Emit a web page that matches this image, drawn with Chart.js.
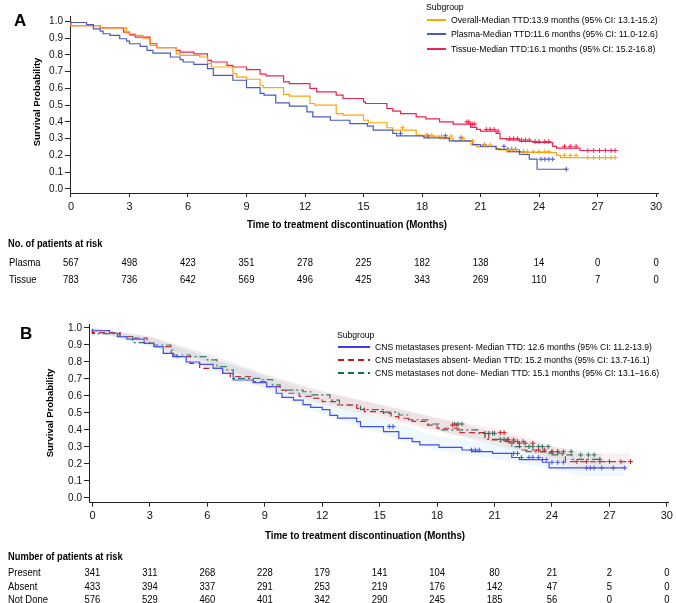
<!DOCTYPE html>
<html><head><meta charset="utf-8">
<script src="https://cdn.jsdelivr.net/npm/chart.js@4"></script>
<style>
html,body{margin:0;padding:0;background:#fff;}
#wrap{position:relative;width:676px;height:603px;overflow:hidden;}
canvas{position:absolute;left:0;}
</style></head><body>
<div id="wrap">
<canvas id="cA" width="676" height="300" style="top:0"></canvas>
<canvas id="cB" width="676" height="303" style="top:300px"></canvas>
</div>
<script>
// ---------- shared ----------
const xTicks = [0,3,6,9,12,15,18,21,24,27,30];
const yTicks = [0,0.1,0.2,0.3,0.4,0.5,0.6,0.7,0.8,0.9,1.0];
const riskTimes = [0,3,6,9,12,15,18,21,24,27,30];

// ---------- Panel A ----------
const overallT = [0,1.5,2.85,3.0,3.7,4.05,4.4,5.4,5.6,6.6,7.0,7.2,8.3,8.5,9.0,9.7,9.85,10.9,11.2,12.25,12.5,13.6,13.95,15.0,15.25,16.2,16.5,17.7,18.0,18.9,19.6,20.5,20.8,21.8,22.0,22.35,23.0,24.9,25.1,26.2,27.9];
const overallS = [1.0,0.976,0.962,0.931,0.917,0.897,0.857,0.844,0.807,0.798,0.788,0.748,0.728,0.688,0.668,0.655,0.619,0.605,0.565,0.554,0.51,0.50,0.45,0.44,0.41,0.395,0.365,0.351,0.321,0.315,0.30,0.285,0.262,0.252,0.242,0.232,0.222,0.217,0.200,0.187,0.187];
const plasmaT = [0,0.8,1.15,1.5,1.65,2.0,2.5,2.85,3.0,3.55,3.9,4.2,5.1,5.6,5.75,6.3,7.0,7.3,8.3,9.0,9.7,9.9,10.5,11.2,12.1,12.4,13.3,14.3,15.2,15.5,16.5,16.7,18.1,19.4,20.6,21.0,21.8,22.4,23.0,23.5,23.9,25.0,25.4];
const plasmaS = [1.0,0.994,0.982,0.956,0.942,0.927,0.917,0.897,0.883,0.867,0.851,0.827,0.811,0.788,0.772,0.758,0.744,0.718,0.678,0.649,0.605,0.57,0.56,0.514,0.494,0.46,0.43,0.41,0.39,0.375,0.351,0.331,0.317,0.305,0.286,0.264,0.254,0.236,0.222,0.205,0.177,0.117,0.117];
const tissueT = [0,1.5,2.7,3.0,3.3,4.05,4.4,5.4,5.6,6.3,7.0,7.2,8.0,8.3,9.0,9.7,10.0,10.9,11.2,12.25,12.6,13.6,13.95,15.0,15.1,16.2,16.5,16.9,17.7,18.2,18.9,19.6,20.5,20.8,21.0,21.8,22.0,22.35,23.0,23.7,24.7,24.9,26.1,26.3,28.0];
const tissueS = [1.0,0.976,0.962,0.937,0.923,0.907,0.867,0.844,0.827,0.817,0.807,0.768,0.758,0.738,0.728,0.712,0.685,0.675,0.639,0.629,0.60,0.579,0.56,0.54,0.52,0.51,0.48,0.464,0.45,0.43,0.418,0.40,0.387,0.367,0.355,0.345,0.331,0.300,0.292,0.283,0.277,0.254,0.243,0.229,0.229];
const overallCens = [17.0,18.2,18.5,19.0,19.5,20.1,20.6,21.2,21.5,22.4,22.6,22.8,23.2,23.4,23.7,24.0,24.3,24.5,25.3,25.6,25.9,26.5,26.8,27.1,27.4,27.7,27.9];
const plasmaCens = [16.9,18.3,19.2,20.0,21.2,22.2,22.4,22.6,22.8,23.0,23.2,24.1,24.3,24.5,24.7,25.4];
const tissueCens = [20.3,20.4,20.5,20.6,20.7,21.3,21.5,21.7,21.9,22.5,22.7,22.9,23.1,23.3,23.5,23.8,24.0,24.3,24.5,25.3,25.6,25.9,26.5,26.8,27.1,27.4,27.7,27.9];
const legendA = ["Overall-Median TTD:13.9 months (95% CI: 13.1-15.2)","Plasma-Median TTD:11.6 months (95% CI: 11.0-12.6)","Tissue-Median TTD:16.1 months (95% CI: 15.2-16.8)"];
const riskLabelsA = ["Plasma","Tissue"];
const riskPlasma = [567,498,423,351,278,225,182,138,14,0,0];
const riskTissue = [783,736,642,569,496,425,343,269,110,7,0];

// ---------- Panel B ----------
const presentT = [0,0.9,1.3,1.8,2.7,3.2,3.7,4.2,4.9,5.6,6.3,6.8,7.35,8.4,9.1,9.6,9.9,10.5,11.0,11.4,12.0,12.4,12.8,13.8,14.0,15.2,16.0,16.7,17.1,18.1,19.3,19.8,20.9,21.9,22.3,23.5,23.85,25.2,27.8];
const presentS = [0.993,0.984,0.969,0.949,0.934,0.91,0.89,0.851,0.831,0.80,0.786,0.763,0.733,0.694,0.678,0.655,0.616,0.592,0.576,0.549,0.533,0.52,0.486,0.47,0.449,0.42,0.39,0.351,0.331,0.312,0.298,0.282,0.272,0.262,0.238,0.226,0.21,0.177,0.177];
const absentT = [0,1.45,2.1,2.85,3.2,4.1,4.4,5.1,5.6,6.8,7.2,8.4,9.1,9.8,10.1,10.8,11.5,12.0,12.8,13.8,14.2,15.2,15.6,16.0,16.7,17.5,18.0,19.2,20.7,21.6,22.3,23.2,23.9,24.7,25.0,28.1];
const absentS = [0.993,0.973,0.949,0.94,0.91,0.89,0.851,0.831,0.792,0.763,0.733,0.714,0.684,0.655,0.635,0.616,0.598,0.586,0.567,0.547,0.527,0.508,0.498,0.478,0.469,0.45,0.429,0.41,0.384,0.341,0.322,0.282,0.272,0.263,0.214,0.214];
const notDoneT = [0,1.4,2.1,3.2,4.1,4.2,5.1,6.0,6.5,7.0,7.35,8.75,9.4,9.8,11.0,11.4,12.4,12.9,14.0,15.2,16.0,16.5,17.5,18.1,20.2,20.5,21.25,21.9,22.65,23.85,25.05,26.3,26.6];
const notDoneS = [0.995,0.967,0.95,0.914,0.90,0.87,0.841,0.831,0.812,0.773,0.753,0.704,0.696,0.665,0.635,0.625,0.606,0.576,0.547,0.52,0.505,0.488,0.46,0.435,0.40,0.38,0.345,0.331,0.302,0.272,0.253,0.227,0.227];
const presentCens = [15.5,15.7,19.8,20.0,20.2,22.0,22.2,22.4,22.8,23.0,23.3,23.5,23.7,24.0,24.3,24.6,25.8,26.0,26.2,26.6,27.2,27.8];
const absentCens = [18.8,19.0,21.3,21.5,21.7,22.0,22.3,22.6,23.0,23.3,23.6,24.0,24.3,25.3,25.8,26.5,27.0,27.6,28.1];
const notDoneCens = [18.9,19.1,19.3,20.5,20.7,20.9,21.0,21.3,21.5,21.7,22.0,22.2,22.5,22.8,23.0,23.3,23.5,23.8,24.0,24.3,24.6,25.0,25.5,25.9,26.2,26.5];
const presentBandT = [0,3,6,9,12,15,18,21,24,25.5,27.8];
const presentUpper = [1.0,0.94,0.83,0.72,0.58,0.47,0.36,0.32,0.26,0.22,0.22];
const presentLower = [0.98,0.89,0.76,0.64,0.49,0.38,0.28,0.23,0.17,0.13,0.13];
const absentBandT = [0,3,6,9,12,15,18,21,24,25.5,28.1];
const absentUpper = [1.0,0.95,0.83,0.72,0.62,0.55,0.47,0.41,0.31,0.26,0.26];
const absentLower = [0.98,0.90,0.77,0.65,0.55,0.47,0.39,0.33,0.22,0.17,0.17];
const notDoneBandT = [0,3,6,9,12,15,18,21,24,26.6];
const notDoneUpper = [1.0,0.95,0.85,0.73,0.63,0.55,0.47,0.39,0.30,0.26];
const notDoneLower = [0.98,0.91,0.80,0.67,0.57,0.49,0.40,0.31,0.24,0.19];
const legendB = ["CNS metastases present- Median TTD: 12.6 months (95% CI: 11.2-13.9)","CNS metastases absent- Median TTD: 15.2 months (95% CI: 13.7-16.1)","CNS metastases not done- Median TTD: 15.1 months (95% CI: 13.1\u201316.6)"];
const riskLabelsB = ["Present","Absent","Not Done"];
const riskPresent = [341,311,268,228,179,141,104,80,21,2,0];
const riskAbsent = [433,394,337,291,253,219,176,142,47,5,0];
const riskNotDone = [576,529,460,401,342,290,245,185,56,0,0];

// ---------- helpers ----------
const SANS = "'Liberation Sans', Arial, sans-serif";
const AX = '#222';
const NX = 0.86; // horizontal squeeze to imitate a narrow face
function pts(ts, ss){ return ts.map((t,i)=>({x:t,y:ss[i]})); }
function survAt(ts, ss, t){ let v = ss[0]; for(let i=0;i<ts.length;i++){ if(ts[i]<=t) v=ss[i]; } return v; }
function cens(ts, ss, cs){ return cs.map(t=>({x:t,y:survAt(ts,ss,t)})); }
function nText(c, txt, x, y, align, sx){
  c.save(); c.translate(x, y); c.scale(sx||NX, 1); c.textAlign = align; c.fillText(txt, 0, 0); c.restore();
}
function curve(label, ts, ss, color, dash, w){
  return {label, data:pts(ts,ss), showLine:true, stepped:'after', borderColor:color, borderWidth:w||1.2,
          borderDash:dash||[], pointRadius:0, pointHoverRadius:0, fill:false};
}
function censSet(ts, ss, cs, color){
  return {label:'', data:cens(ts,ss,cs), showLine:false, pointStyle:'cross', pointRadius:2.4,
          borderColor:color, borderWidth:1, backgroundColor:color};
}
function band(ts, up, lo, color){
  return [
    {label:'', data:pts(ts,up), showLine:true, borderWidth:0, pointRadius:0, fill:'+1', backgroundColor:color, borderColor:'rgba(0,0,0,0)'},
    {label:'', data:pts(ts,lo), showLine:true, borderWidth:0, pointRadius:0, fill:false, borderColor:'rgba(0,0,0,0)'}
  ];
}
function scales(xmin, xmax, ymin, ymax, yw, xh){
  return {
    x:{type:'linear', min:xmin, max:xmax,
       afterBuildTicks:s=>{ s.ticks = xTicks.map(v=>({value:v})); },
       afterFit:s=>{ s.height = xh; },
       grid:{display:true, drawOnChartArea:false, drawTicks:true, tickLength:4, color:AX, lineWidth:1},
       border:{display:true, color:AX, width:1},
       ticks:{autoSkip:false, maxRotation:0, padding:3, color:'#111', font:{family:SANS, size:11}}},
    y:{type:'linear', min:ymin, max:ymax,
       afterBuildTicks:s=>{ s.ticks = yTicks.map(v=>({value:v})); },
       afterFit:s=>{ s.width = yw; },
       grid:{display:true, drawOnChartArea:false, drawTicks:true, tickLength:5, color:AX, lineWidth:1},
       border:{display:true, color:AX, width:1},
       ticks:{autoSkip:false, padding:2, color:'#111', font:{family:SANS, size:10}, callback:v=>Number(v).toFixed(1)}}
  };
}

// ---------- Chart A ----------
const colO = '#FFA500', colP = '#4A5AC0', colT = '#F2224E';
const plugA = {id:'decoA', afterDraw(ch){
  const c = ch.ctx, xs = ch.scales.x;
  c.save();
  c.fillStyle = '#000';
  c.font = "bold 17px " + SANS; c.textBaseline='alphabetic'; c.textAlign='left';
  c.fillText('A', 14, 26);
  c.save(); c.translate(37, 102); c.rotate(-Math.PI/2);
  c.font = "bold 9.5px " + SANS; c.textAlign='center'; c.textBaseline='middle';
  c.fillText('Survival Probability', 0, 0); c.restore();
  c.font = "bold 11.3px " + SANS; c.textBaseline='middle';
  nText(c, 'Time to treatment discontinuation (Months)', 347, 225, 'center');
  // legend
  c.font = "8.7px " + SANS; c.textAlign='left'; c.textBaseline='middle';
  c.fillText('Subgroup', 426, 8);
  const cols=[colO,colP,colT], ys=[20,34,49];
  for(let i=0;i<3;i++){
    c.strokeStyle=cols[i]; c.lineWidth=2; c.beginPath(); c.moveTo(427,ys[i]); c.lineTo(446,ys[i]); c.stroke();
    c.fillStyle='#000'; c.fillText(legendA[i], 451, ys[i]+1);
  }
  // risk table
  c.font = "bold 10.8px " + SANS;
  nText(c, 'No. of patients at risk', 8, 244, 'left');
  c.font = "11px " + SANS;
  nText(c, riskLabelsA[0], 9, 263, 'left'); nText(c, riskLabelsA[1], 9, 280, 'left');
  riskTimes.forEach((t,i)=>{ const px = xs.getPixelForValue(t);
    nText(c, String(riskPlasma[i]), px, 263, 'center'); nText(c, String(riskTissue[i]), px, 280, 'center'); });
  c.restore();
}};
new Chart(document.getElementById('cA'), {
  type:'scatter',
  data:{datasets:[
    censSet(overallT, overallS, overallCens, colO),
    censSet(plasmaT, plasmaS, plasmaCens, colP),
    censSet(tissueT, tissueS, tissueCens, colT),
    curve('Plasma', plasmaT, plasmaS, colP),
    curve('Overall', overallT, overallS, colO),
    curve('Tissue', tissueT, tissueS, colT)
  ]},
  options:{responsive:false, animation:false, devicePixelRatio:1,
    layout:{padding:{left:0, top:16.5, right:18, bottom:300-193-22}},
    plugins:{legend:{display:false}, tooltip:{enabled:false}},
    scales:scales(-0.05, 30.1, -0.025, 1.03, 70, 22)},
  plugins:[plugA]
});

// ---------- Chart B ----------
const colPr = '#3B3BF5', colAb = '#C81414', colND = '#0F6E55';
const plugB = {id:'decoB', afterDraw(ch){
  const c = ch.ctx, xs = ch.scales.x;
  c.save(); c.fillStyle='#000';
  c.font = "bold 17px " + SANS; c.textBaseline='alphabetic'; c.textAlign='left';
  c.fillText('B', 20, 39);
  c.save(); c.translate(50, 113); c.rotate(-Math.PI/2);
  c.font = "bold 9.5px " + SANS; c.textAlign='center'; c.textBaseline='middle';
  c.fillText('Survival Probability', 0, 0); c.restore();
  c.font = "bold 11.3px " + SANS; c.textBaseline='middle';
  nText(c, 'Time to treatment discontinuation (Months)', 365, 236, 'center');
  // legend
  c.font = "8.6px " + SANS; c.textAlign='left'; c.textBaseline='middle';
  c.fillText('Subgroup', 337, 36);
  const cols=[colPr,colAb,colND], ys=[47,60,73], dashes=[[],[6,4],[6,4]];
  for(let i=0;i<3;i++){
    c.strokeStyle=cols[i]; c.lineWidth=2; c.setLineDash(dashes[i]);
    c.beginPath(); c.moveTo(338,ys[i]); c.lineTo(370,ys[i]); c.stroke();
    c.setLineDash([]);
    c.fillStyle='#000'; c.fillText(legendB[i], 375, ys[i]+1);
  }
  // risk table
  c.font = "bold 10.8px " + SANS;
  nText(c, 'Number of patients at risk', 8, 257, 'left');
  c.font = "11px " + SANS;
  const rows=[riskPresent,riskAbsent,riskNotDone], ry=[273,287,300];
  for(let r=0;r<3;r++){
    nText(c, riskLabelsB[r], 8, ry[r], 'left');
    riskTimes.forEach((t,i)=>{ nText(c, String(rows[r][i]), xs.getPixelForValue(t), ry[r], 'center'); });
  }
  c.restore();
}};
new Chart(document.getElementById('cB'), {
  type:'scatter',
  data:{datasets:[
    ...band(presentBandT, presentUpper, presentLower, 'rgba(120,200,240,0.13)'),
    ...band(absentBandT, absentUpper, absentLower, 'rgba(230,120,150,0.12)'),
    ...band(notDoneBandT, notDoneUpper, notDoneLower, 'rgba(120,130,120,0.12)'),
    censSet(presentT, presentS, presentCens, colPr),
    censSet(absentT, absentS, absentCens, colAb),
    censSet(notDoneT, notDoneS, notDoneCens, colND),
    curve('Present', presentT, presentS, colPr),
    curve('Absent', absentT, absentS, colAb, [6,4]),
    curve('Not done', notDoneT, notDoneS, colND, [7,3,2,3])
  ]},
  options:{responsive:false, animation:false, devicePixelRatio:1,
    layout:{padding:{left:0, top:24.6, right:6, bottom:303-202.7-22}},
    plugins:{legend:{display:false}, tooltip:{enabled:false}, filler:{propagate:false}},
    scales:scales(-0.18, 30.1, -0.028, 1.02, 89, 22)},
  plugins:[plugB]
});
</script>
</body></html>
